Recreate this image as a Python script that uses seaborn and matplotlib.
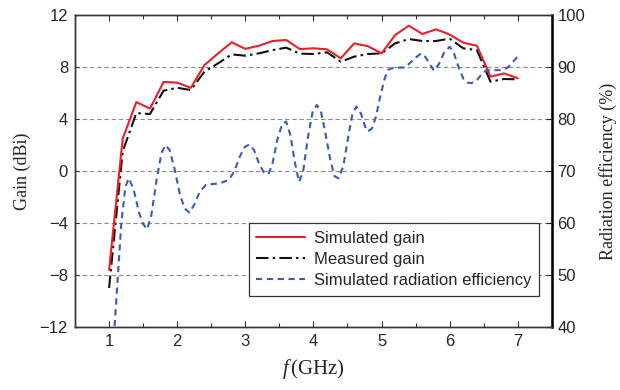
import numpy as np
import pandas as pd
import matplotlib
matplotlib.use("Agg")
import matplotlib.pyplot as plt
import seaborn as sns
from matplotlib.ticker import MultipleLocator

# ---- data ----
freq = [1.0, 1.2, 1.4, 1.6, 1.8, 2.0, 2.2, 2.4, 2.6, 2.8, 3.0, 3.2, 3.4, 3.6, 3.8, 4.0,
        4.2, 4.4, 4.6, 4.8, 5.0, 5.2, 5.4, 5.6, 5.8, 6.0, 6.2, 6.4, 6.6, 6.8, 7.0]
sim_gain = [-7.6, 2.5, 5.3, 4.8, 6.85, 6.8, 6.4, 8.15, 9.05, 9.9, 9.4, 9.64, 10.0, 10.08, 9.38, 9.44,
            9.36, 8.67, 9.82, 9.6, 9.05, 10.46, 11.18, 10.54, 10.9, 10.5, 9.87, 9.64, 7.26, 7.51, 7.13]
meas_gain = [-9.0, 1.5, 4.46, 4.38, 6.18, 6.4, 6.23, 7.64, 8.28, 8.97, 8.87, 9.05, 9.3, 9.49, 9.03, 9.0,
             9.13, 8.41, 8.8, 9.0, 9.05, 9.82, 10.15, 10.0, 10.0, 10.18, 9.44, 9.3, 6.87, 7.08, 7.05]
eff_freq = [1.06, 1.12, 1.18, 1.24, 1.29, 1.36, 1.44, 1.50, 1.56, 1.62, 1.70, 1.77, 1.83, 1.89, 1.96,
            2.04, 2.11, 2.18, 2.25, 2.33, 2.42, 2.52, 2.62, 2.70, 2.76, 2.84, 2.92, 2.99, 3.06, 3.13,
            3.20, 3.27, 3.34, 3.40, 3.47, 3.54, 3.60, 3.66, 3.73, 3.79, 3.85, 3.92, 3.99, 4.05, 4.11,
            4.18, 4.25, 4.31, 4.37, 4.44, 4.51, 4.57, 4.63, 4.70, 4.76, 4.80, 4.86, 4.92, 4.97, 5.04,
            5.09, 5.14, 5.22, 5.34, 5.42, 5.50, 5.58, 5.64, 5.71, 5.77, 5.84, 5.92, 6.00, 6.06, 6.13,
            6.20, 6.26, 6.32, 6.40, 6.47, 6.54, 6.62, 6.70, 6.78, 6.86, 6.93, 7.00]
efficiency = [36.0, 48.0, 60.0, 67.0, 68.6, 66.5, 62.0, 59.8, 58.8, 61.5, 68.5, 73.5, 75.0, 74.0, 70.5,
              65.5, 62.8, 62.0, 63.5, 66.0, 67.3, 67.5, 67.6, 68.0, 68.3, 70.0, 72.8, 74.6, 75.1, 74.0,
              71.5, 69.8, 69.4, 71.5, 76.0, 79.0, 79.5, 77.0, 71.5, 67.9, 70.0, 76.5, 81.5, 82.7, 81.5,
              77.0, 72.0, 69.0, 68.6, 71.0, 76.5, 80.8, 82.4, 81.0, 78.5, 77.6, 78.2, 80.5, 83.7, 87.5,
              89.4, 89.7, 89.9, 89.9, 90.8, 91.8, 92.6, 92.0, 90.5, 89.3, 90.5, 92.8, 93.9, 92.8, 90.0,
              87.8, 87.0, 86.9, 87.5, 88.6, 89.4, 89.4, 89.4, 89.4, 90.0, 91.0, 92.0]

gain_ticks = [-12, -8, -4, 0, 4, 8, 12]
eff_ticks = [40, 50, 60, 70, 80, 90, 100]
x_ticks = [1, 2, 3, 4, 5, 6, 7]

df_gain = pd.DataFrame({"f": freq, "sim": sim_gain, "meas": meas_gain})
df_eff = pd.DataFrame({"f": eff_freq, "eff": efficiency})

sns.set_style("ticks")
plt.rcParams["font.family"] = ["Liberation Sans", "DejaVu Sans"]
plt.rcParams["mathtext.fontset"] = "custom"
plt.rcParams["mathtext.it"] = "Liberation Serif:italic"
plt.rcParams["mathtext.rm"] = "Liberation Serif"

fig = plt.figure(figsize=(6.2, 3.9), dpi=100)
ax = fig.add_axes([0.121, 0.1615, 0.769, 0.80])
ax2 = ax.twinx()

for yv in [-8, -4, 0, 4, 8]:
    ax.axhline(yv, color="#8c8c8c", lw=0.8, ls=(0, (4, 2.5)), zorder=0)

sns.lineplot(data=df_gain, x="f", y="sim", ax=ax, color="#e8202a", lw=1.5,
             label="Simulated gain", legend=False, zorder=3)
sns.lineplot(data=df_gain, x="f", y="meas", ax=ax, color="#111111", lw=1.5,
             ls=(0, (6, 2, 1.2, 2)), label="Measured gain", legend=False, zorder=2)
sns.lineplot(data=df_eff, x="f", y="eff", ax=ax2, color="#3a5bb0", lw=1.5,
             ls=(0, (3, 2.2)), label="Simulated radiation efficiency", legend=False, zorder=2)

ax.set_xlim(0.5, 7.5)
ax.set_ylim(-12, 12)
ax2.set_ylim(40, 100)
ax.set_xticks(x_ticks)
ax.xaxis.set_minor_locator(MultipleLocator(0.5))
ax.set_yticks(gain_ticks)
ax2.set_yticks(eff_ticks)

ax.tick_params(axis="both", which="both", direction="in", top=True, labelsize=12, length=3,
               color="#333333", width=0.8, pad=5)
ax.tick_params(axis="x", which="major", length=4)
ax.tick_params(axis="y", right=False)
ax2.tick_params(axis="y", direction="in", labelsize=12, length=4, width=0.8, pad=4)

for a in (ax, ax2):
    for s in a.spines.values():
        s.set_color("#333333")
        s.set_linewidth(1.0)
ax2.spines["right"].set_linewidth(1.8)
ax2.spines["right"].set_color("#000000")

ax.set_xlabel(r"$f\,\mathrm{(GHz)}$", fontsize=15, labelpad=6)
ax.set_ylabel("Gain (dBi)", fontsize=13, family="Liberation Serif", labelpad=6)
ax2.set_ylabel("Radiation efficiency (%)", fontsize=13, family="Liberation Serif", labelpad=10)

h1, l1 = ax.get_legend_handles_labels()
h2, l2 = ax2.get_legend_handles_labels()
leg = ax2.legend(h1 + h2, l1 + l2, loc="lower right", bbox_to_anchor=(0.973, 0.10),
                 fontsize=12, frameon=True, fancybox=False, framealpha=1,
                 edgecolor="#333333", handlelength=2.9, borderpad=0.45,
                 labelspacing=0.38, handletextpad=0.55, borderaxespad=0)
leg.get_frame().set_linewidth(0.9)

fig.savefig("out.png", dpi=100)
